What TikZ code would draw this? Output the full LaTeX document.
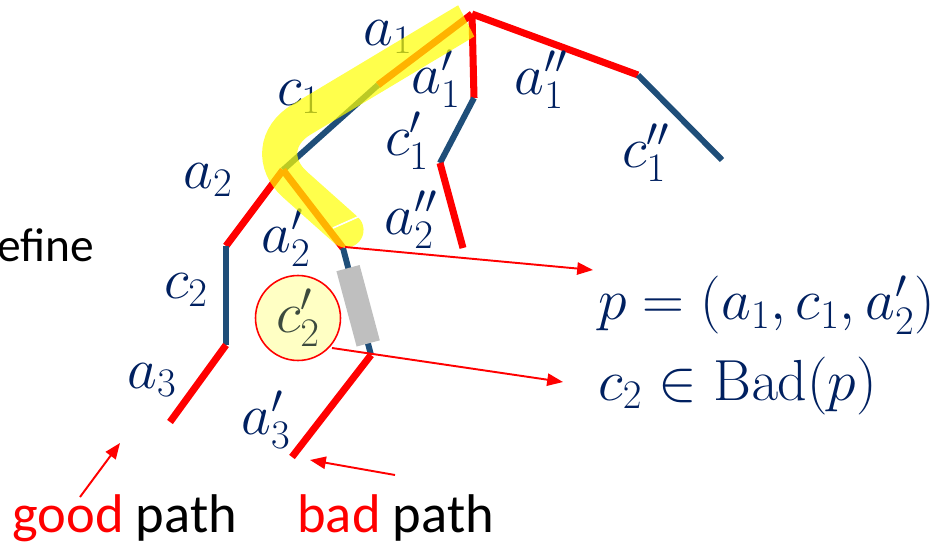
\RequirePackage{fix-cm}
\documentclass[tikz,border=0pt]{standalone}
\usepackage[no-math]{fontspec}
\setmainfont{Carlito}
\usetikzlibrary{arrows.meta,calc}
\definecolor{navy}{HTML}{002060}
\definecolor{edgeblue}{HTML}{1F4E79}
\definecolor{hilite}{HTML}{FFFF00}
\definecolor{shieldgrey}{HTML}{BFBFBF}
\definecolor{badfill}{HTML}{FFFFC4}
\definecolor{badtext}{HTML}{3C4A3E}
\tikzset{
  actedge/.style={draw=red,line width=4pt},
  chedge/.style={draw=edgeblue,line width=3.4pt},
  lbl/.style={text=navy,font=\fontsize{33}{38}\selectfont,inner sep=0pt},
  eqn/.style={text=navy,font=\fontsize{33}{38}\selectfont,inner sep=0pt,anchor=base west},
  word/.style={font=\fontsize{31}{36}\selectfont,inner sep=0pt,anchor=base west},
  ptr/.style={-{Triangle[length=9pt,width=7pt]},draw=red,line width=1.1pt},
  badcirc/.style={circle,draw=red,line width=0.9pt,fill=badfill,minimum size=1.7cm,
    text=badtext,font=\fontsize{33}{38}\selectfont,inner sep=0pt},
  shield/.style={rectangle,fill=shieldgrey,minimum width=1.56cm,minimum height=0.48cm,inner sep=0pt},
}

\begin{document}
\begin{tikzpicture}[x=0.02cm,y=-0.02cm]
    \useasboundingbox (0,0) rectangle (943,550);

    % tree vertices
    \coordinate (root) at (472,14);
    \coordinate (v1pp) at (638,75);  \coordinate (w1pp) at (722,160);
    \coordinate (v1p) at (474,98);   \coordinate (w1p) at (440,163);  \coordinate (v2pp) at (463,248);
    \coordinate (v1) at (378,85);    \coordinate (w1) at (283,170);
    \coordinate (v2) at (226,246);   \coordinate (w2) at (226,345);   \coordinate (v3) at (170,422);
    \coordinate (v2p) at (343,248);  \coordinate (w2p) at (371,355);  \coordinate (v3p) at (292,457);

    \draw[actedge](root)--(v1pp); \draw[chedge](v1pp)--(w1pp);
    \draw[actedge](root)--(v1p); \draw[chedge](v1p)--(w1p); \draw[actedge](w1p)--(v2pp);
    \draw[actedge](root)--(v1); \draw[chedge](v1)--(w1);
    \draw[actedge](w1)--(v2); \draw[chedge](v2)--(w2); \draw[actedge](w2)--(v3);
    \draw[actedge](w1)--(v2p); \draw[chedge](v2p)--(w2p); \draw[actedge](w2p)--(v3p);

    % edge labels
    \node[lbl] (la1) at (388,37) {$a_1$};
    \node[lbl] (la1p) at (436,79) {$a_1'$};
    \node[lbl] (la1pp) at (541,80) {$a_1''$};
    \node[lbl] (lc1) at (299,97) {$c_1$};
    \node[lbl] (lc1p) at (407,141) {$c_1'$};
    \node[lbl] (lc1pp) at (646,153) {$c_1''$};
    \node[lbl] (la2) at (208,180) {$a_2$};
    \node[lbl] (la2pp) at (411,220) {$a_2''$};
    \node[lbl] (la2p) at (286,238) {$a_2'$};
    \node[lbl] (lc2) at (186,290) {$c_2$};
    \node[lbl] (la3) at (152,380) {$a_3$};
    \node[lbl] (la3p) at (266,420) {$a_3'$};

    % highlighted prefix
    \begin{scope}
      \clip (288,-325) -- (645,368) -- (-200,600) -- (-200,-325) -- cycle;
      \draw[hilite,opacity=0.7,line width=20pt,line cap=round,rounded corners=1.1cm]
        (466,21) -- (254,148) -- (346,230);
    \end{scope}
    \draw[white,line width=0.9pt] (333,228) -- (360,216);

    \node[shield,rotate=-75] (blk) at ($(v2p)!0.54!(w2p)$) {};
    \node[badcirc] (c2p) at (298,318) {$c_2'$};

    % statements
    \coordinate (pfrom) at (345,247); \coordinate (pto) at (593,270);
    \coordinate (bfrom) at (332,348); \coordinate (bto) at (563,382);
    \node[eqn] (pdef) at (598,320) {$p=(a_1,c_1,a_2')$};
    \node[eqn] (bdef) at (598,400) {$c_2\in\mathrm{Bad}(p)$};
    \draw[ptr](pfrom)--(pto); \draw[ptr](bfrom)--(bto);

    \node[word] (dfn) at (-3,262) {\fontsize{27}{32}\selectfont efine};
    \node[word] (good) at (12,532) {\textcolor{red}{good} path};
    \node[word] (bad) at (297,532) {\textcolor{red}{bad} path};
    \coordinate (gtail) at (80,497); \coordinate (gtip) at (120,443);
    \coordinate (btail) at (395,475); \coordinate (btip) at (310,460);
    \draw[ptr](gtail)--(gtip); \draw[ptr](btail)--(btip);
  \end{tikzpicture}
\end{document}
